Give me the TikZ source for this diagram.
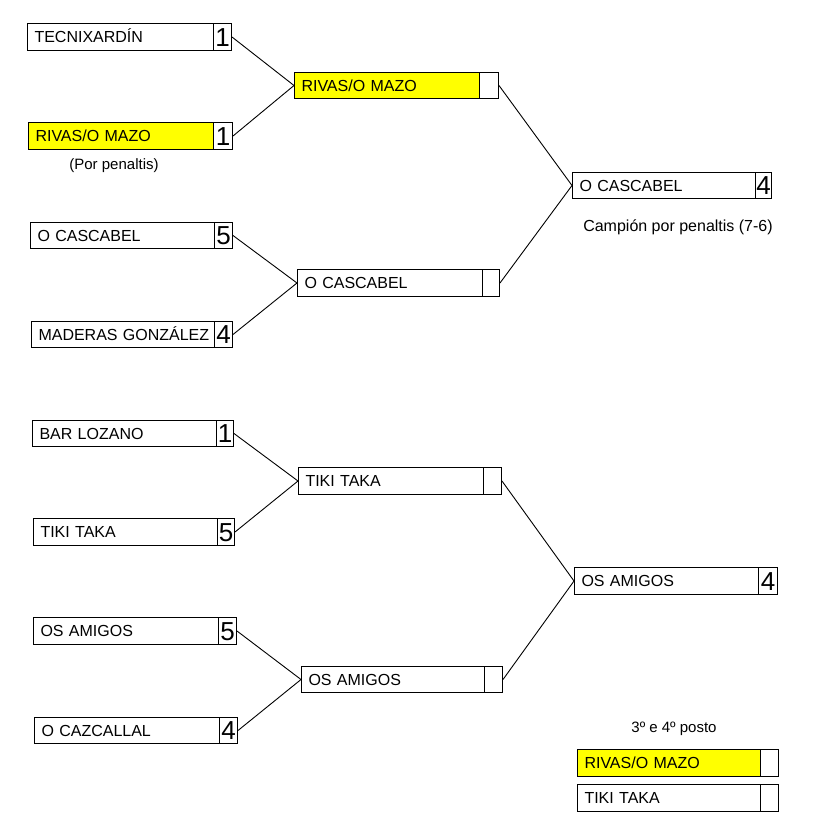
\documentclass[tikz,border=0pt]{standalone}
\usepackage{fontspec}
\setmainfont{Liberation Sans}
\definecolor{hiyel}{HTML}{FFFF00}
\tikzset{
  namebox/.style={draw=black, line width=1pt, anchor=north west, inner xsep=7pt, inner ysep=0pt,
    align=left, text height=11.5pt, text depth=0pt, font=\fontsize{16}{16}\selectfont},
  scorebox/.style={draw=black, line width=1pt, anchor=north west, inner sep=0pt, fill=white,
    text height=18.6pt, text depth=0pt, font=\fontsize{26}{26}\selectfont},
  link/.style={draw=black, line width=0.9pt},
  note/.style={anchor=base, inner sep=0pt, font=\fontsize{15}{15}\selectfont}
}
\newcommand\teamrow[9]{%
  \pgfmathsetmacro\tmw{#4-#2-14}%
  \pgfmathsetmacro\tmh{#6-#3}%
  \pgfmathsetmacro\tms{#5-#4}%
  \node[namebox, fill=#9, text width=\tmw pt, minimum height=\tmh pt] (#1) at (#2,#3) {\mbox{#7}};
  \node[scorebox, minimum width=\tms pt, minimum height=\tmh pt] (#1s) at (#4,#3) {#8};
}
\begin{document}
\begin{tikzpicture}[x=1pt,y=-1pt]
\useasboundingbox[fill=white] (0,0) rectangle (821,832);
% first round, top half
\teamrow{a1}{27}{23}{213}{231}{50}{TECNIXARDÍN}{1}{white}
\teamrow{a2}{28}{122}{213}{232}{149}{RIVAS/O MAZO}{1}{hiyel}
\teamrow{a3}{30}{222}{214}{232}{248}{O CASCABEL}{5}{white}
\teamrow{a4}{31}{321}{214}{232}{347}{MADERAS GONZÁLEZ}{4}{white}
% first round, bottom half
\teamrow{b1}{32}{420}{216}{233}{446}{BAR LOZANO}{1}{white}
\teamrow{b2}{33}{518}{217}{234}{545}{TIKI TAKA}{5}{white}
\teamrow{b3}{33}{617}{218}{236}{644}{OS AMIGOS}{5}{white}
\teamrow{b4}{34}{717}{219}{237}{743}{O CAZCALLAL}{4}{white}
% semifinal round
\teamrow{m1}{294}{72}{479}{498}{98}{RIVAS/O MAZO}{}{hiyel}
\teamrow{m2}{297}{269}{482}{499}{296}{O CASCABEL}{}{white}
\teamrow{m3}{298}{467}{483}{501}{494}{TIKI TAKA}{}{white}
\teamrow{m4}{301}{666}{484}{502}{692}{OS AMIGOS}{}{white}
% finals
\teamrow{f1}{572}{172}{755}{771}{198}{O CASCABEL}{4}{white}
\teamrow{f2}{574}{567}{758}{777}{594}{OS AMIGOS}{4}{white}
% third place
\teamrow{t1}{577}{749}{760}{778}{776}{RIVAS/O MAZO}{}{hiyel}
\teamrow{t2}{577}{784}{760}{778}{811}{TIKI TAKA}{}{white}
% notes
\node[note] (n1) at (114,169) {(Por penaltis)};
\node[note, font=\fontsize{16}{16}\selectfont] (n2) at (678,231) {Campión por penaltis (7-6)};
\node[note] (n3) at (674,732) {3º e 4º posto};
% connectors
\draw[link] (a1s.east) -- (m1.west);
\draw[link] (a2s.east) -- (m1.west);
\draw[link] (a3s.east) -- (m2.west);
\draw[link] (a4s.east) -- (m2.west);
\draw[link] (b1s.east) -- (m3.west);
\draw[link] (b2s.east) -- (m3.west);
\draw[link] (b3s.east) -- (m4.west);
\draw[link] (b4s.east) -- (m4.west);
\draw[link] (m1s.east) -- (f1.west);
\draw[link] (m2s.east) -- (f1.west);
\draw[link] (m3s.east) -- (f2.west);
\draw[link] (m4s.east) -- (f2.west);
\end{tikzpicture}
\end{document}
